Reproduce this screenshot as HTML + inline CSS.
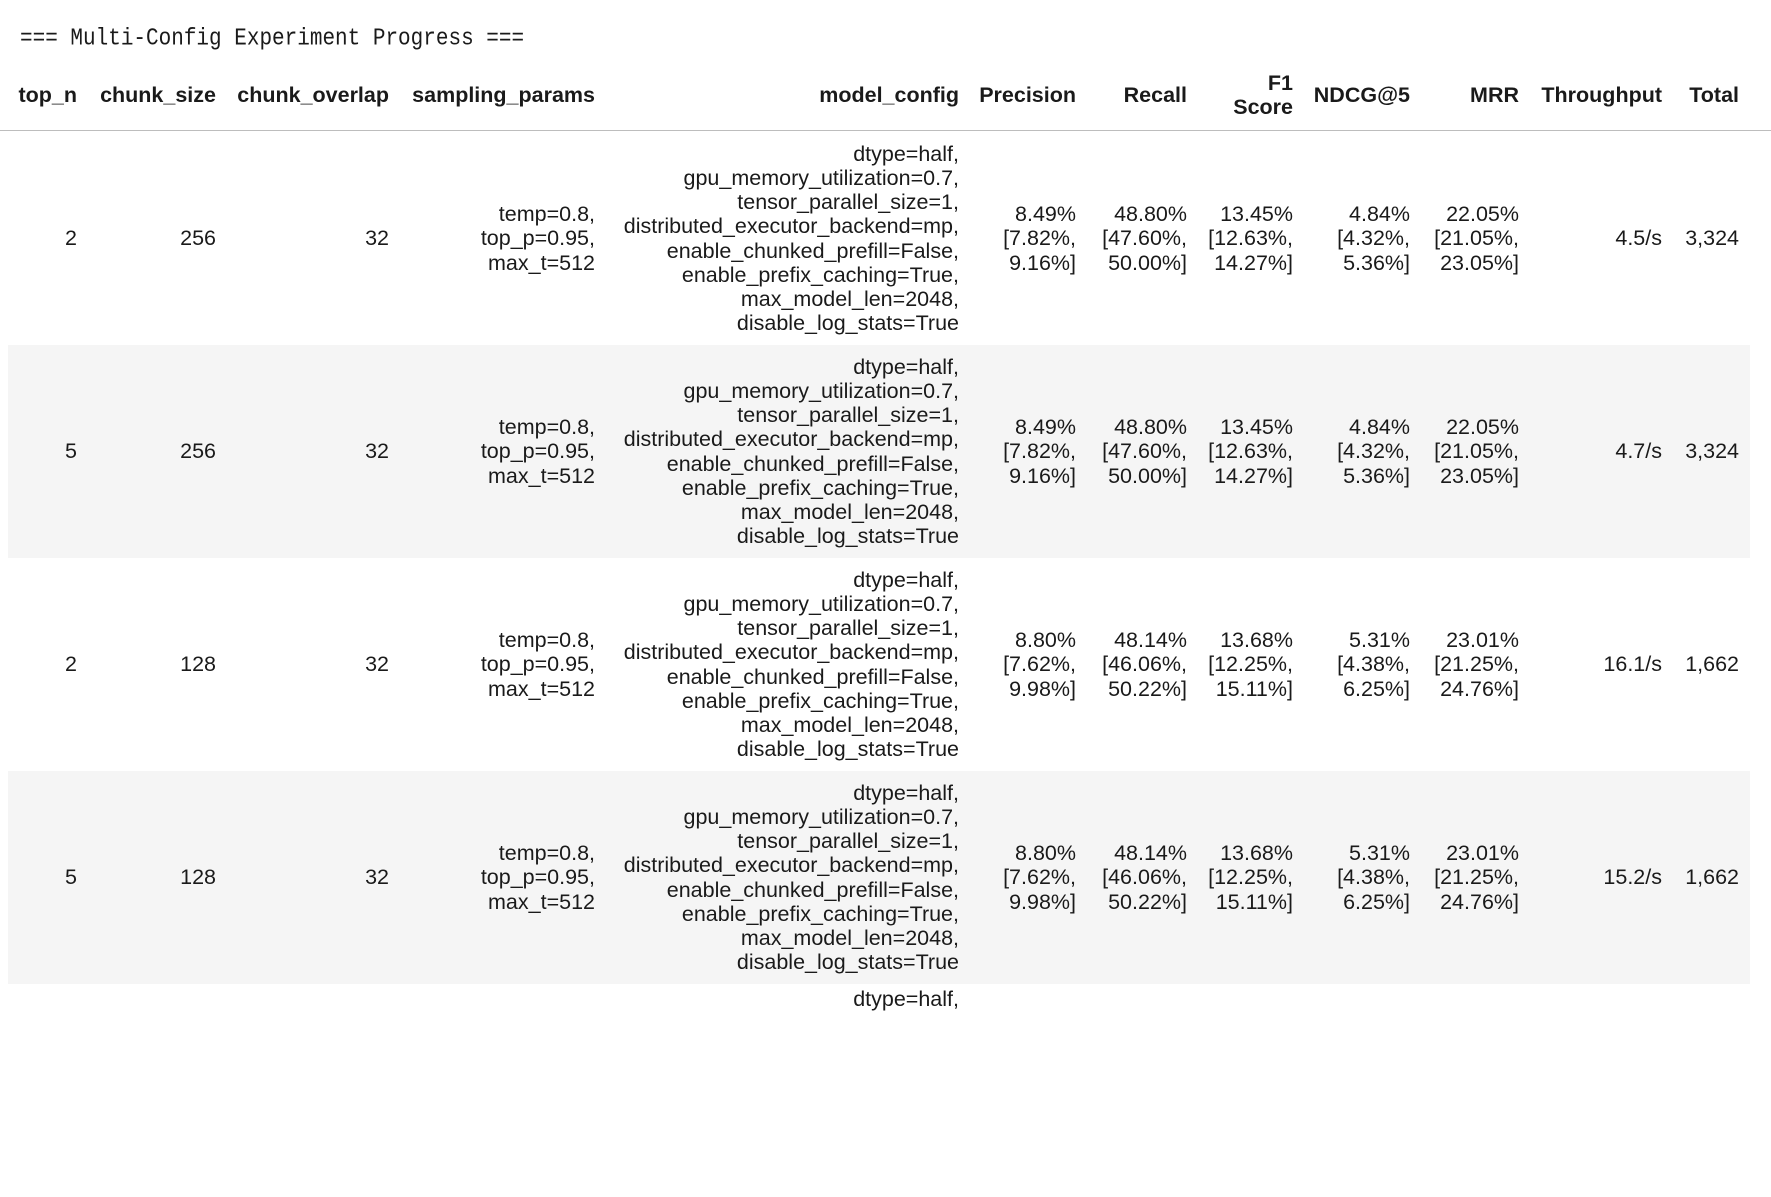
<!DOCTYPE html>
<html><head><meta charset="utf-8"><style>
*{margin:0;padding:0;box-sizing:border-box}
body{width:1771px;height:1000px;overflow:hidden;background:#fff;color:#1a1a1a;font-family:"Liberation Sans",sans-serif;font-size:21.5px;line-height:24.2px;position:relative}
.title{position:absolute;left:20px;top:27px;font-family:"Liberation Mono",monospace;font-size:21px;line-height:26px;white-space:pre;transform:scaleY(1.15);transform-origin:left center}
.hdr{position:absolute;left:0;top:60px;width:1771px;height:71px;border-bottom:1.5px solid #bdbdbd;font-weight:bold}
.hdr .c{position:absolute;top:0;bottom:0;display:flex;align-items:center;text-align:right;white-space:nowrap}
.row{position:absolute;left:8px;width:1742px;height:213px}
.g{background:#f5f5f5}
.row .c{position:absolute;top:0;bottom:0;display:flex;align-items:center;justify-content:flex-end;text-align:right;white-space:nowrap}
.r1{right:1673px}.r2{right:1534px}.r3{right:1361px}.r4{right:1155px}.r5{right:791px}.r6{right:674px}.r7{right:563px}.r8{right:457px}.r9{right:340px}.r10{right:231px}.r11{right:88px}.r12{right:11px}
.hdr .r1{right:1694px}.hdr .r2{right:1555px}.hdr .r3{right:1382px}.hdr .r4{right:1176px}.hdr .r5{right:812px}.hdr .r6{right:695px}.hdr .r7{right:584px}.hdr .r8{right:478px}.hdr .r9{right:361px}.hdr .r10{right:252px}.hdr .r11{right:109px}.hdr .r12{right:32px}
</style></head><body>
<div class="title">=== Multi-Config Experiment Progress ===</div>
<div class="hdr">
<div class="c r1">top_n</div><div class="c r2">chunk_size</div><div class="c r3">chunk_overlap</div><div class="c r4">sampling_params</div><div class="c r5">model_config</div><div class="c r6">Precision</div><div class="c r7">Recall</div><div class="c r8">F1<br>Score</div><div class="c r9">NDCG@5</div><div class="c r10">MRR</div><div class="c r11">Throughput</div><div class="c r12">Total</div>
</div>

<div class="row" style="top:132px">
<div class="c r1">2</div><div class="c r2">256</div><div class="c r3">32</div>
<div class="c r4">temp=0.8,<br>top_p=0.95,<br>max_t=512</div>
<div class="c r5">dtype=half,<br>gpu_memory_utilization=0.7,<br>tensor_parallel_size=1,<br>distributed_executor_backend=mp,<br>enable_chunked_prefill=False,<br>enable_prefix_caching=True,<br>max_model_len=2048,<br>disable_log_stats=True</div>
<div class="c r6">8.49%<br>[7.82%,<br>9.16%]</div><div class="c r7">48.80%<br>[47.60%,<br>50.00%]</div><div class="c r8">13.45%<br>[12.63%,<br>14.27%]</div><div class="c r9">4.84%<br>[4.32%,<br>5.36%]</div><div class="c r10">22.05%<br>[21.05%,<br>23.05%]</div><div class="c r11">4.5/s</div><div class="c r12">3,324</div>
</div>

<div class="row g" style="top:345px">
<div class="c r1">5</div><div class="c r2">256</div><div class="c r3">32</div>
<div class="c r4">temp=0.8,<br>top_p=0.95,<br>max_t=512</div>
<div class="c r5">dtype=half,<br>gpu_memory_utilization=0.7,<br>tensor_parallel_size=1,<br>distributed_executor_backend=mp,<br>enable_chunked_prefill=False,<br>enable_prefix_caching=True,<br>max_model_len=2048,<br>disable_log_stats=True</div>
<div class="c r6">8.49%<br>[7.82%,<br>9.16%]</div><div class="c r7">48.80%<br>[47.60%,<br>50.00%]</div><div class="c r8">13.45%<br>[12.63%,<br>14.27%]</div><div class="c r9">4.84%<br>[4.32%,<br>5.36%]</div><div class="c r10">22.05%<br>[21.05%,<br>23.05%]</div><div class="c r11">4.7/s</div><div class="c r12">3,324</div>
</div>

<div class="row" style="top:558px">
<div class="c r1">2</div><div class="c r2">128</div><div class="c r3">32</div>
<div class="c r4">temp=0.8,<br>top_p=0.95,<br>max_t=512</div>
<div class="c r5">dtype=half,<br>gpu_memory_utilization=0.7,<br>tensor_parallel_size=1,<br>distributed_executor_backend=mp,<br>enable_chunked_prefill=False,<br>enable_prefix_caching=True,<br>max_model_len=2048,<br>disable_log_stats=True</div>
<div class="c r6">8.80%<br>[7.62%,<br>9.98%]</div><div class="c r7">48.14%<br>[46.06%,<br>50.22%]</div><div class="c r8">13.68%<br>[12.25%,<br>15.11%]</div><div class="c r9">5.31%<br>[4.38%,<br>6.25%]</div><div class="c r10">23.01%<br>[21.25%,<br>24.76%]</div><div class="c r11">16.1/s</div><div class="c r12">1,662</div>
</div>

<div class="row g" style="top:771px">
<div class="c r1">5</div><div class="c r2">128</div><div class="c r3">32</div>
<div class="c r4">temp=0.8,<br>top_p=0.95,<br>max_t=512</div>
<div class="c r5">dtype=half,<br>gpu_memory_utilization=0.7,<br>tensor_parallel_size=1,<br>distributed_executor_backend=mp,<br>enable_chunked_prefill=False,<br>enable_prefix_caching=True,<br>max_model_len=2048,<br>disable_log_stats=True</div>
<div class="c r6">8.80%<br>[7.62%,<br>9.98%]</div><div class="c r7">48.14%<br>[46.06%,<br>50.22%]</div><div class="c r8">13.68%<br>[12.25%,<br>15.11%]</div><div class="c r9">5.31%<br>[4.38%,<br>6.25%]</div><div class="c r10">23.01%<br>[21.25%,<br>24.76%]</div><div class="c r11">15.2/s</div><div class="c r12">1,662</div>
</div>

<div class="row" style="top:984px">
<div class="c r5" style="align-items:flex-start;padding-top:3px">dtype=half,</div>
</div>
</body></html>
